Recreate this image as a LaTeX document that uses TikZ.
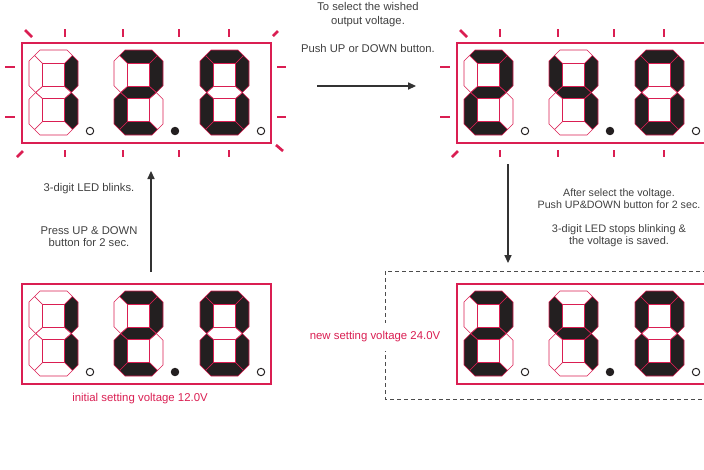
\documentclass[tikz,border=0pt]{standalone}
\usepackage{fontspec}
\setmainfont{Liberation Sans}
\usetikzlibrary{arrows.meta}
\definecolor{ledred}{RGB}{218,30,82}
\definecolor{ledblack}{RGB}{35,31,32}
\newcommand{\leddigit}[8]{%
	\begin{scope}[shift={#1}]
		\filldraw[#2] (5.5,5.5) -- (11,0) -- (38,0) -- (43.5,5.5) -- (35.5,13.5) -- (13.5,13.5) -- cycle;
		\filldraw[#3] (43.5,5.5) -- (49,11) -- (49,35.75) -- (42.25,42.5) -- (35.5,36.5) -- (35.5,13.5) -- cycle;
		\filldraw[#4] (42.25,42.5) -- (49,49.25) -- (49,74) -- (43.5,79.5) -- (35.5,71.5) -- (35.5,48.5) -- cycle;
		\filldraw[#5] (5.5,79.5) -- (11,85) -- (38,85) -- (43.5,79.5) -- (35.5,71.5) -- (13.5,71.5) -- cycle;
		\filldraw[#6] (6.75,42.5) -- (0,49.25) -- (0,74) -- (5.5,79.5) -- (13.5,71.5) -- (13.5,48.5) -- cycle;
		\filldraw[#7] (5.5,5.5) -- (0,11) -- (0,35.75) -- (6.75,42.5) -- (13.5,36.5) -- (13.5,13.5) -- cycle;
		\filldraw[#8] (6.75,42.5) -- (13.5,36.5) -- (35.5,36.5) -- (42.25,42.5) -- (35.5,48.5) -- (13.5,48.5) -- cycle;
	\end{scope}}
\newcommand{\digone}[1]{\leddigit{#1}{segoff}{segon}{segon}{segoff}{segoff}{segoff}{segoff}}
\newcommand{\digtwo}[1]{\leddigit{#1}{segon}{segon}{segoff}{segon}{segon}{segoff}{segon}}
\newcommand{\digfour}[1]{\leddigit{#1}{segoff}{segon}{segon}{segoff}{segoff}{segon}{segon}}
\newcommand{\digzero}[1]{\leddigit{#1}{segon}{segon}{segon}{segon}{segon}{segon}{segoff}}
\newcommand{\ledpanel}[4]{%
	\begin{scope}[shift={#1}]
		\draw[panel] (0,0) rectangle (249,100);
		#2{(7,7)}
		#3{(92,7)}
		#4{(178,7)}
		\draw[dp] (68,88) circle[radius=3.7];
		\filldraw[dp, fill=ledblack] (153,88) circle[radius=3.7];
		\draw[dp] (239,88) circle[radius=3.7];
	\end{scope}}
\newcommand{\blinkmarks}[1]{%
	\begin{scope}[shift={#1}]
		\foreach \x in {43,101,157,207} {
			\draw[blink] (\x,-14) -- (\x,-6);
			\draw[blink] (\x,107) -- (\x,114);
		}
		\foreach \y in {24,74} {
			\draw[blink] (-17,\y) -- (-7,\y);
			\draw[blink] (255,\y) -- (264,\y);
		}
		\draw[blink] (3,-13) -- (10,-6);
		\draw[blink] (251,-7) -- (256,-12);
		\draw[blink] (-5,114) -- (1,108);
		\draw[blink] (254,102) -- (261,108);
	\end{scope}}
\begin{document}
\begin{tikzpicture}[x=0.25mm, y=-0.25mm,
		segon/.style={fill=ledblack, draw=ledred, line width=0.45pt, line join=round},
		segoff/.style={fill=white, draw=ledred, line width=0.45pt, line join=round},
		panel/.style={draw=ledred, line width=0.8pt},
		dp/.style={draw=ledblack, line width=0.7pt},
		blink/.style={draw=ledred, line width=1.9pt},
		flow/.style={draw=black!80, line width=0.75pt, -{Triangle[length=2mm, width=1.8mm]}},
		note/.style={font=\fontsize{8}{8.1}\selectfont, text=black!75, align=center, inner sep=0pt},
		tag/.style={font=\fontsize{8.1}{8.1}\selectfont, text=ledred, inner sep=1pt},
		savedbox/.style={draw=black!70, line width=0.7pt, dash pattern=on 1mm off 0.75mm}]
	\useasboundingbox (0,0) rectangle (704,469);
	\ledpanel{(22,43)}{\digone}{\digtwo}{\digzero}
	\blinkmarks{(22,43)}
	\ledpanel{(457,43)}{\digtwo}{\digfour}{\digzero}
	\blinkmarks{(457,43)}
	\ledpanel{(22,284)}{\digone}{\digtwo}{\digzero}
	\draw[savedbox] (385,271) rectangle (712,399);
	\ledpanel{(457,284)}{\digtwo}{\digfour}{\digzero}
	\node[note, font=\fontsize{8}{10}\selectfont] (select) at (368,15) {To select the wished\\output voltage.};
	\node[note] (push) at (368,48) {Push UP or DOWN button.};
	\coordinate (pushS) at (317,86);
	\coordinate (pushE) at (416,86);
	\draw[flow] (pushS) -- (pushE);
	\node[note] (blinks) at (89,189) {3-digit LED blinks.};
	\node[note] (press) at (89,236.5) {Press UP \& DOWN\\button for 2 sec.};
	\coordinate (upS) at (151,272);
	\coordinate (upE) at (151,171);
	\draw[flow] (upS) -- (upE);
	\node[note, font=\fontsize{7.6}{8.1}\selectfont] (after) at (619,198.5) {After select the voltage.\\Push UP\&DOWN button for 2 sec.};
	\node[note, font=\fontsize{7.8}{8.1}\selectfont] (saved) at (619,235.5) {3-digit LED stops blinking \&\\the voltage is saved.};
	\coordinate (downS) at (508,164);
	\coordinate (downE) at (508,263);
	\draw[flow] (downS) -- (downE);
	\node[tag] (initial) at (140,399) {initial setting voltage 12.0V};
	\node[tag, fill=white, inner ysep=6pt] (newset) at (375,337) {new setting voltage 24.0V};
\end{tikzpicture}
\end{document}
